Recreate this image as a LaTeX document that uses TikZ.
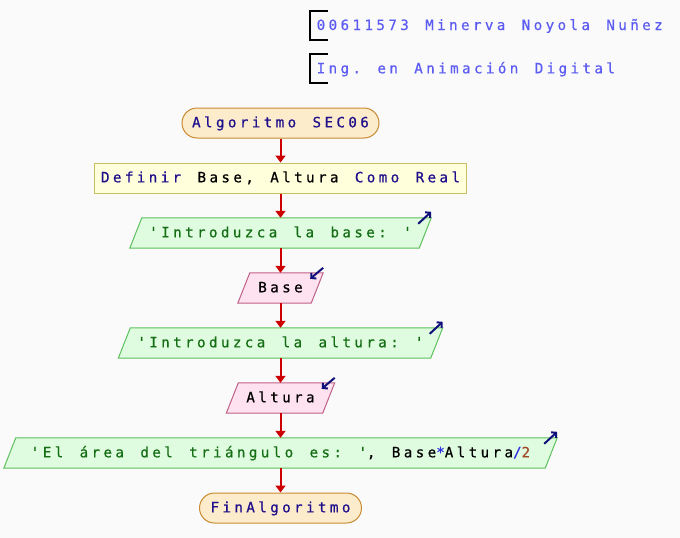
\documentclass[tikz,border=0pt]{standalone}
\usepackage{fontspec}
\setmonofont[LetterSpace=23.9,WordSpace=1.37,FakeBold=0.6]{DejaVu Sans Mono}
\usetikzlibrary{arrows.meta,backgrounds,calc}
\definecolor{bgc}{HTML}{FAFAFA}
\definecolor{kw}{HTML}{20108C}
\definecolor{strc}{HTML}{146E14}
\definecolor{opc}{HTML}{3030E0}
\definecolor{numc}{HTML}{A04828}
\definecolor{hdr}{HTML}{5C5CF2}
\definecolor{flow}{HTML}{CC0000}
\definecolor{icon}{HTML}{10107A}
\definecolor{termfill}{HTML}{FDECCB}
\definecolor{termdraw}{HTML}{C88A32}
\definecolor{procfill}{HTML}{FFFFDC}
\definecolor{procdraw}{HTML}{C8C060}
\definecolor{outfill}{HTML}{E0FCE0}
\definecolor{outdraw}{HTML}{5CC05C}
\definecolor{infill}{HTML}{FFE2EF}
\definecolor{indraw}{HTML}{C06088}
\tikzset{
  txt/.style={font=\ttfamily\fontsize{14.2}{16}\selectfont, inner sep=0pt,
    minimum height=30pt, text height=10pt, text depth=1.4pt},
  term/.style={txt, draw=termdraw, fill=termfill, rounded corners=15pt, line width=1pt, text=kw},
  proc/.style={txt, draw=procdraw, fill=procfill, line width=1pt},
  outbox/.style={txt, text=strc},
  inbox/.style={txt, text=black},
  outshape/.style={draw=outdraw, fill=outfill, line width=1pt},
  inshape/.style={draw=indraw, fill=infill, line width=1pt},
  flowline/.style={draw=flow, line width=2pt, -{Triangle[width=10pt,length=7pt]}},
  ioicon/.style={draw=icon, line width=2pt, -{Straight Barb[length=3.5pt,width=7.5pt]}},
  hdrtxt/.style={font=\ttfamily\fontsize{14.2}{16}\selectfont, text=hdr, inner sep=0pt},
  bracket/.style={draw=black, line width=1.2pt}
}
\begin{document}
\begin{tikzpicture}[x=1pt,y=-1pt]
\useasboundingbox (0,0) rectangle (680,538);

% header comments
\node[hdrtxt, anchor=base west] (h1) at (316.5,30) {00611573 Minerva Noyola Nuñez};
\node[hdrtxt, anchor=base west] (h2) at (316.5,73.3) {Ing. en Animación Digital};
\draw[bracket] (328,11) -- (310,11) -- (310,40) -- (328,40);
\draw[bracket] (328,54) -- (310,54) -- (310,83) -- (328,83);

% nodes
\node[term, minimum width=197pt] (start) at (280.5,123) {Algoritmo SEC06};
\node[proc, minimum width=372pt] (def) at (280.5,178) {\textcolor{kw}{Definir} Base, Altura \textcolor{kw}{Como Real}};
\node[outbox, minimum width=289pt] (o1) at (280.5,233) {'Introduzca la base: '};
\node[inbox, minimum width=73pt] (i1) at (280.5,288) {Base};
\node[outbox, minimum width=312pt] (o2) at (280.5,343) {'Introduzca la altura: '};
\node[inbox, minimum width=96pt] (i2) at (280.5,398) {Altura};
\node[outbox, minimum width=541pt] (o3) at (280.5,453) {'El área del triángulo es: '\textcolor{black}{, Base}\textcolor{opc}{*}\textcolor{black}{Altura}\textcolor{opc}{/}\textcolor{numc}{2}};
\node[term, minimum width=162pt] (fin) at (280.5,508) {FinAlgoritmo};

% parallelogram shapes behind the texts
\begin{scope}[on background layer]
  \fill[bgc] (0,0) rectangle (680,538);
  \foreach \n/\s in {o1/outshape, o2/outshape, o3/outshape, i1/inshape, i2/inshape}{
    \draw[\s] ([xshift=6pt]\n.north west) -- ([xshift=6pt]\n.north east)
      -- ([xshift=-6pt]\n.south east) -- ([xshift=-6pt]\n.south west) -- cycle;
  }
\end{scope}

% flow connectors
\draw[flowline] (start) -- (def);
\draw[flowline] (def) -- (o1);
\draw[flowline] (o1) -- (i1);
\draw[flowline] (i1) -- (o2);
\draw[flowline] (o2) -- (i2);
\draw[flowline] (i2) -- (o3);
\draw[flowline] (o3) -- (fin);

% output / input icons
\foreach \n in {o1,o2,o3}{
  \draw[ioicon] ([xshift=-7pt,yshift=-6pt]\n.north east) -- ([xshift=6pt,yshift=6pt]\n.north east);
}
\foreach \n in {i1,i2}{
  \draw[ioicon] ([xshift=6pt,yshift=5pt]\n.north east) -- ([xshift=-7pt,yshift=-6pt]\n.north east);
}
\end{tikzpicture}
\end{document}
